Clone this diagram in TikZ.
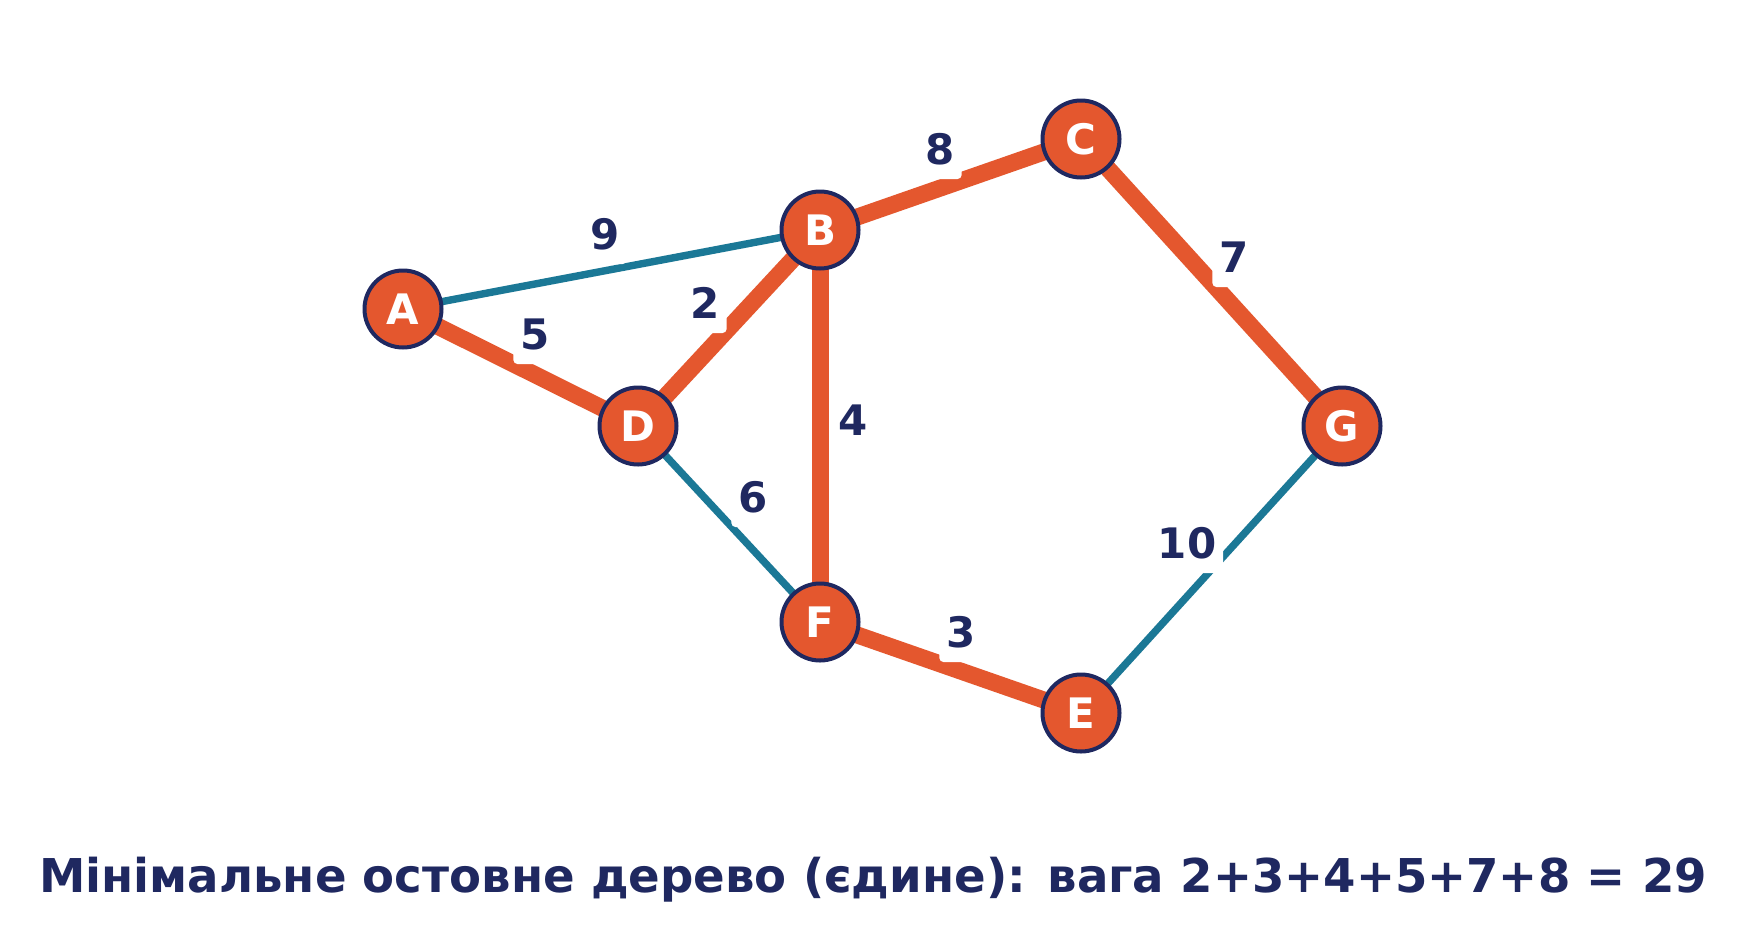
\documentclass[tikz,border=0pt]{standalone}
\usepackage{fontspec}
\setmainfont{DejaVu Sans}
\definecolor{mstorange}{HTML}{E4572E}
\definecolor{navy}{HTML}{1F2860}
\definecolor{teal}{HTML}{1B7896}
\begin{document}
\begin{tikzpicture}[x=0.5pt,y=-0.5pt,
  vert/.style={circle,draw=navy,line width=2pt,fill=mstorange,minimum size=38.5pt,inner sep=0pt,
    text=white,font=\fontsize{21}{25}\selectfont\bfseries},
  treeedge/.style={draw=mstorange,line width=8.5pt},
  otheredge/.style={draw=teal,line width=3.7pt},
  wlabel/.style={anchor=base,fill=white,rounded corners=2pt,inner xsep=3.5pt,inner ysep=2.5pt,
    text depth=5pt,text=navy,font=\fontsize{21}{25}\selectfont\bfseries}]
\useasboundingbox[fill=white] (0,0) rectangle (1745,943);
\coordinate (pA) at (403,309);
\coordinate (pB) at (820,230);
\coordinate (pC) at (1081,139);
\coordinate (pD) at (638,426);
\coordinate (pF) at (820,622);
\coordinate (pE) at (1081,713);
\coordinate (pG) at (1342,426);
% edges
\draw[otheredge] (pA) -- (pB);
\draw[treeedge] (pA) -- (pD);
\draw[treeedge] (pD) -- (pB);
\draw[treeedge] (pB) -- (pC);
\draw[treeedge] (pB) -- (pF);
\draw[otheredge] (pD) -- (pF);
\draw[treeedge] (pF) -- (pE);
\draw[treeedge] (pC) -- (pG);
\draw[otheredge] (pE) -- (pG);
% weights
\node[wlabel] (w9) at (605,249) {9};
\node[wlabel] (w5) at (535,349) {5};
\node[wlabel] (w2) at (705,318) {2};
\node[wlabel] (w8) at (940,164) {8};
\node[wlabel] (w7) at (1234,272) {7};
\node[wlabel] (w4) at (853,435) {4};
\node[wlabel] (w6) at (753,512) {6};
\node[wlabel] (w3) at (961,647) {3};
\node[wlabel] (w10) at (1187,558) {10};
% vertices
\node[vert] (A) at (pA) {A};
\node[vert] (B) at (pB) {B};
\node[vert] (C) at (pC) {C};
\node[vert] (D) at (pD) {D};
\node[vert] (F) at (pF) {F};
\node[vert] (E) at (pE) {E};
\node[vert] (G) at (pG) {G};
% title
\node[text=navy,font=\fontsize{23.3}{28}\selectfont\bfseries] (title) at (873,880) {Мінімальне остовне дерево (єдине): вага 2+3+4+5+7+8 = 29};
\end{tikzpicture}
\end{document}
